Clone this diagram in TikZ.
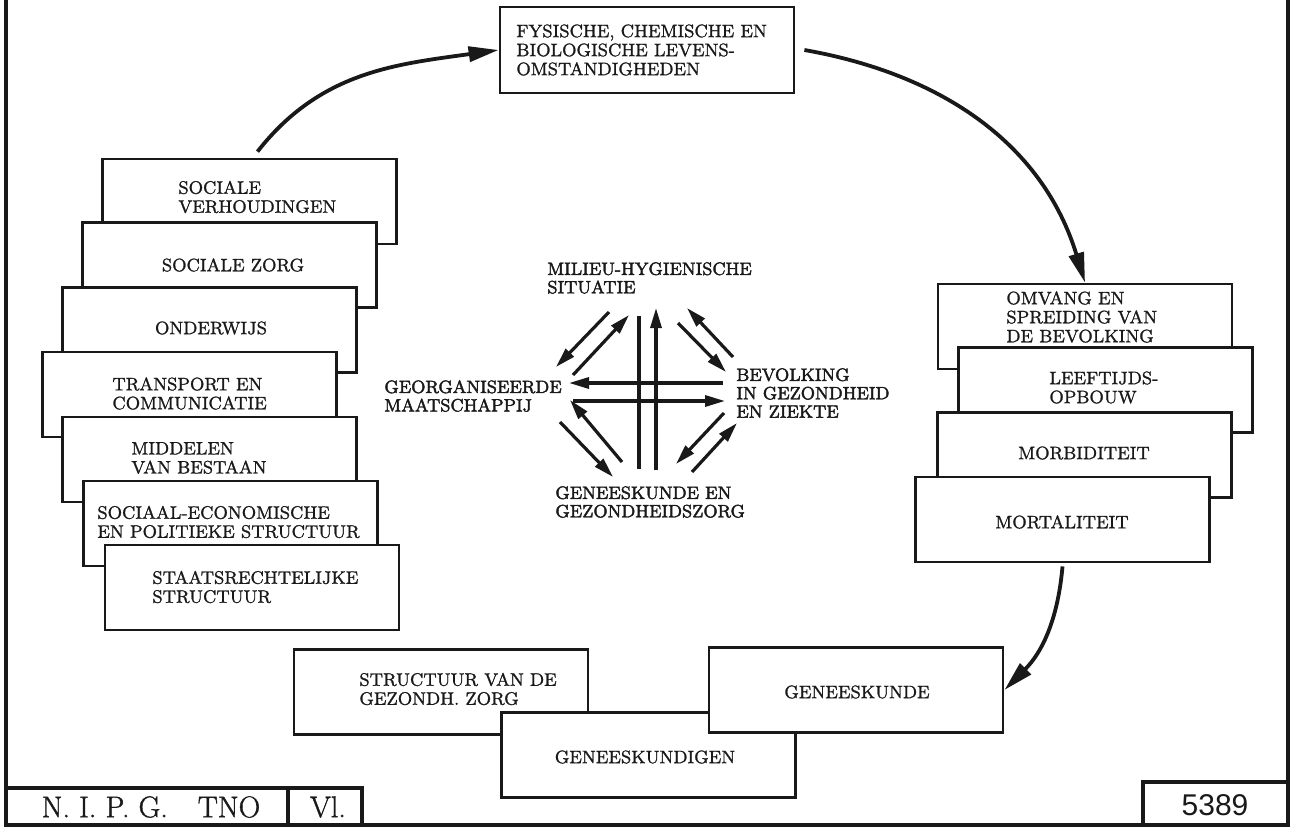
\documentclass[tikz,border=0pt]{standalone}
\usepackage{fontspec}
\newfontfamily\nummerfont{Liberation Sans}
\newfontface\vetfont{Latin Modern Roman}[FakeBold=1.2]
\newfontface\kernfont{Latin Modern Roman}[FakeBold=2.2]
\definecolor{inkt}{RGB}{25,25,25}
\usepackage{tikz}
\usetikzlibrary{arrows.meta, calc}

\begin{document}
\begin{tikzpicture}[x=0.5pt, y=0.5pt,
    blok/.style={draw=inkt, line width=1.4pt, fill=white, minimum width=147pt, minimum height=42.5pt, inner sep=0pt},
    tekst/.style={font=\vetfont\fontsize{9}{9.5}\selectfont, align=left, inner sep=0pt, text=inkt},
    kern/.style={font=\kernfont\fontsize{8.9}{9.2}\selectfont, align=left, inner sep=0pt, text=inkt},
    boog/.style={draw=inkt, line width=1.9pt, -{Triangle[length=15pt, width=7.5pt]}},
    pijl/.style={draw=inkt, line width=1.6pt, -{Triangle[length=10pt, width=5.5pt]}}]
    \useasboundingbox (0,0) rectangle (1299,827);
    \fill[white] (0,0) rectangle (1299,827);

    % Frame and title block
    \draw[inkt, line width=2pt] (6,827) -- (6,2) -- (1288,2) -- (1288,827);
    \draw[inkt, line width=1.6pt] (6,39) -- (362,39) -- (362,2);
    \draw[inkt, line width=1.6pt] (288,39) -- (288,2);
    \draw[inkt, line width=1.6pt] (1143,2) -- (1143,45) -- (1288,45);
    \node[text=inkt, font=\vetfont\fontsize{15}{17}\selectfont] (nipg) at (151,20) {N.\ I.\ P.\ G.\quad TNO};
    \node[text=inkt, font=\vetfont\fontsize{15}{17}\selectfont] (vl) at (328,20) {Vl.};
    \node[text=inkt, font=\nummerfont\fontsize{15}{17}\selectfont] (nr) at (1215,22) {5389};

    % Top box
    \node[blok, minimum height=43pt] (fys) at (647,777) {};
    \node[tekst, anchor=west] (fyst) at (516,777) {FYSISCHE, CHEMISCHE EN\\BIOLOGISCHE LEVENS-\\OMSTANDIGHEDEN};

    % Left stack
    \node[blok] (sv) at (249.5,625.5) {};
    \node[tekst, anchor=west] (svt) at (178,630) {SOCIALE\\VERHOUDINGEN};
    \node[blok] (sz) at (229.5,562) {};
    \node[tekst] (szt) at (233,562) {SOCIALE ZORG};
    \node[blok] (ow) at (209.5,497) {};
    \node[tekst] (owt) at (211,499) {ONDERWIJS};
    \node[blok] (tc) at (189.5,432.5) {};
    \node[tekst, anchor=west] (tct) at (112,433.5) {TRANSPORT EN\\COMMUNICATIE};
    \node[blok] (mb) at (209.5,367.5) {};
    \node[tekst, anchor=west] (mbt) at (131,369) {MIDDELEN\\VAN BESTAAN};
    \node[blok] (sep) at (230.5,303.5) {};
    \node[tekst, anchor=west] (sept) at (97,305) {SOCIAAL-ECONOMISCHE\\EN POLITIEKE STRUCTUUR};
    \node[blok] (srs) at (252,239.5) {};
    \node[tekst, anchor=west] (srst) at (152,240) {STAATSRECHTELIJKE\\STRUCTUUR};

    % Right stack
    \node[blok] (om) at (1085,500.5) {};
    \node[tekst, anchor=west] (omt) at (1006,510) {OMVANG EN\\SPREIDING VAN\\DE BEVOLKING};
    \node[blok] (lo) at (1105.5,437) {};
    \node[tekst, anchor=west] (lot) at (1049,439.5) {LEEFTIJDS-\\OPBOUW};
    \node[blok] (mo) at (1084.5,372) {};
    \node[tekst] (mot) at (1084,374) {MORBIDITEIT};
    \node[blok] (mt) at (1062.5,307.5) {};
    \node[tekst] (mtt) at (1062,305) {MORTALITEIT};

    % Bottom boxes
    \node[blok] (str) at (441,135) {};
    \node[tekst, anchor=west] (strt) at (359,138) {STRUCTUUR VAN DE\\GEZONDH.\ ZORG};
    \node[blok] (gkd) at (648.5,72) {};
    \node[tekst] (gkdt) at (645,70) {GENEESKUNDIGEN};
    \node[blok] (gk) at (856,137) {};
    \node[tekst] (gkt) at (857,135) {GENEESKUNDE};

    % Cycle arrows
    \draw[boog] ([xshift=4pt,yshift=3pt]sv.north) to[out=52, in=188] (fys.west);
    \draw[boog] ([xshift=4.5pt]fys.east) to[out=-10, in=107] (om.north);
    \draw[boog] ([yshift=-1.5pt]mt.south) to[out=-95, in=45] (gk.east);

    % Centre labels
    \node[kern, anchor=west] (mil) at (547,549) {MILIEU-HYGIENISCHE\\SITUATIE};
    \node[kern, anchor=west] (geo) at (384,431) {GEORGANISEERDE\\MAATSCHAPPIJ};
    \node[kern, anchor=west] (bev) at (736,434) {BEVOLKING\\IN GEZONDHEID\\EN ZIEKTE};
    \node[kern, anchor=west] (gen) at (555,325) {GENEESKUNDE EN\\GEZONDHEIDSZORG};

    % Centre arrows
    \coordinate (kruis) at (647,435);
    \draw[pijl] ($(kruis)+(-38,80)$) -- ($(kruis)+(-91,25)$);
    \draw[pijl] ($(kruis)+(-74,17)$) -- ($(kruis)+(-18,77)$);
    \draw[inkt, line width=1.6pt] ($(kruis)+(-8,76)$) -- ($(kruis)+(-8,-77)$);
    \draw[pijl] ($(kruis)+(9,-78)$) -- ($(kruis)+(9,84)$);
    \draw[pijl] ($(kruis)+(76,9)$) -- ($(kruis)+(-78,9)$);
    \draw[pijl] ($(kruis)+(-74,-9)$) -- ($(kruis)+(78,-9)$);
    \draw[pijl] ($(kruis)+(86,35)$) -- ($(kruis)+(40,84)$);
    \draw[pijl] ($(kruis)+(31,69)$) -- ($(kruis)+(79,20)$);
    \draw[pijl] ($(kruis)+(-25,-70)$) -- ($(kruis)+(-77,-8)$);
    \draw[pijl] ($(kruis)+(-87,-30)$) -- ($(kruis)+(-34,-85)$);
    \draw[pijl] ($(kruis)+(77,-21)$) -- ($(kruis)+(29,-72)$);
    \draw[pijl] ($(kruis)+(45,-80)$) -- ($(kruis)+(90,-31)$);
\end{tikzpicture}
\end{document}
